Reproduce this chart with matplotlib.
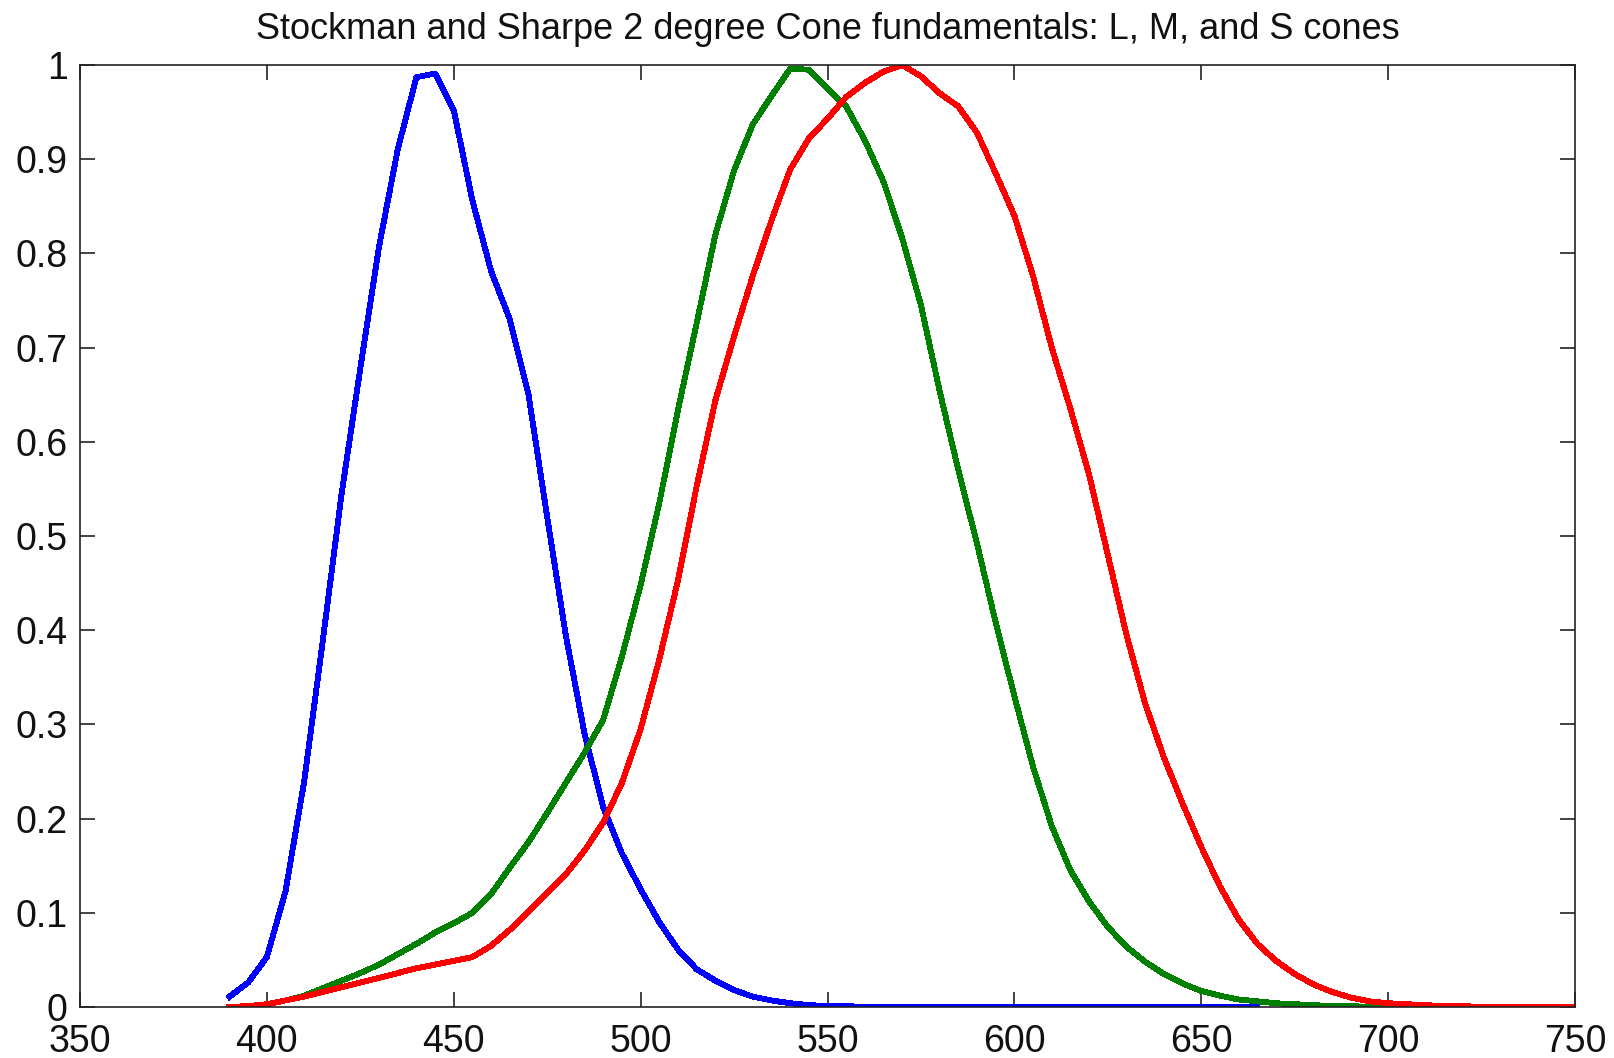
import numpy as np
import matplotlib
matplotlib.use("Agg")
import matplotlib.pyplot as plt

# wavelengths (nm), 5 nm steps
wavelengths = list(range(390, 755, 5))

# S cone (blue), 390..665 nm
s_cone = [0.011, 0.026, 0.053, 0.123, 0.240, 0.390, 0.545, 0.678, 0.807, 0.910,
          0.987, 0.991, 0.952, 0.856, 0.781, 0.730, 0.650, 0.520, 0.394, 0.290,
          0.212, 0.163, 0.125, 0.090, 0.061, 0.040, 0.028, 0.018, 0.011, 0.007,
          0.004, 0.002, 0.001, 0.001,
          0, 0, 0, 0, 0, 0, 0, 0, 0, 0, 0, 0, 0, 0, 0, 0, 0, 0, 0, 0, 0, 0]

# M cone (green), 390..705 nm
m_cone = [0.000, 0.001, 0.003, 0.007, 0.012, 0.020, 0.028, 0.036, 0.045, 0.056,
          0.067, 0.079, 0.089, 0.100, 0.120, 0.148, 0.175, 0.206, 0.238, 0.270,
          0.305, 0.372, 0.448, 0.535, 0.634, 0.726, 0.820, 0.888, 0.937, 0.967,
          0.996, 0.995, 0.975, 0.956, 0.920, 0.876, 0.816, 0.745, 0.654, 0.570,
          0.492, 0.408, 0.330, 0.255, 0.192, 0.145, 0.112, 0.085, 0.064, 0.048,
          0.035, 0.025, 0.017, 0.012, 0.008, 0.006, 0.004, 0.003, 0.002, 0.001,
          0.001, 0.000, 0.000, 0.000]

# L cone (red), 390..750 nm
l_cone = [0.000, 0.001, 0.003, 0.007, 0.011, 0.016, 0.021, 0.026, 0.031, 0.036,
          0.041, 0.045, 0.049, 0.053, 0.065, 0.082, 0.101, 0.121, 0.141, 0.166,
          0.196, 0.238, 0.295, 0.369, 0.453, 0.553, 0.644, 0.712, 0.776, 0.835,
          0.889, 0.922, 0.943, 0.966, 0.981, 0.993, 1.000, 0.988, 0.970, 0.956,
          0.928, 0.885, 0.840, 0.776, 0.700, 0.635, 0.565, 0.480, 0.395, 0.322,
          0.265, 0.216, 0.170, 0.128, 0.093, 0.067, 0.049, 0.035, 0.024, 0.016,
          0.010, 0.006, 0.004, 0.003, 0.002, 0.001, 0.001, 0.000, 0.000, 0.000,
          0.000, 0.000, 0.000]

plt.rcParams['font.family'] = ['Liberation Sans', 'DejaVu Sans']

fig = plt.figure(figsize=(16.14, 10.58), dpi=100)
ax = fig.add_axes([80 / 1614, 51 / 1058, 1495 / 1614, 942 / 1058])

ax.plot(wavelengths[:len(s_cone)], s_cone, color='#0000ff', lw=3.5, antialiased=False)
ax.plot(wavelengths[:len(m_cone)], m_cone, color='#008000', lw=3.5, antialiased=False)
ax.plot(wavelengths[:len(l_cone)], l_cone, color='#ff0000', lw=3.5, antialiased=False)

ax.set_xlim(350, 750)
ax.set_ylim(0, 1)
ax.set_xticks(range(350, 751, 50))
ax.set_yticks(np.arange(0, 1.01, 0.1))
ax.set_yticklabels(['0', '0.1', '0.2', '0.3', '0.4', '0.5', '0.6', '0.7', '0.8', '0.9', '1'])
ax.tick_params(direction='in', length=10.5, width=1.2, labelsize=27,
               top=True, right=True, color='#222222', labelcolor='#111111')
ax.tick_params(axis='x', pad=12.5)
ax.tick_params(axis='y', pad=9)
for sp in ax.spines.values():
    sp.set_linewidth(1.2)
    sp.set_color('#222222')

ax.set_title('Stockman and Sharpe 2 degree Cone fundamentals: L, M, and S cones',
             fontsize=26, pad=19, color='#111111')

fig.savefig('out.png', dpi=100, facecolor='white')
